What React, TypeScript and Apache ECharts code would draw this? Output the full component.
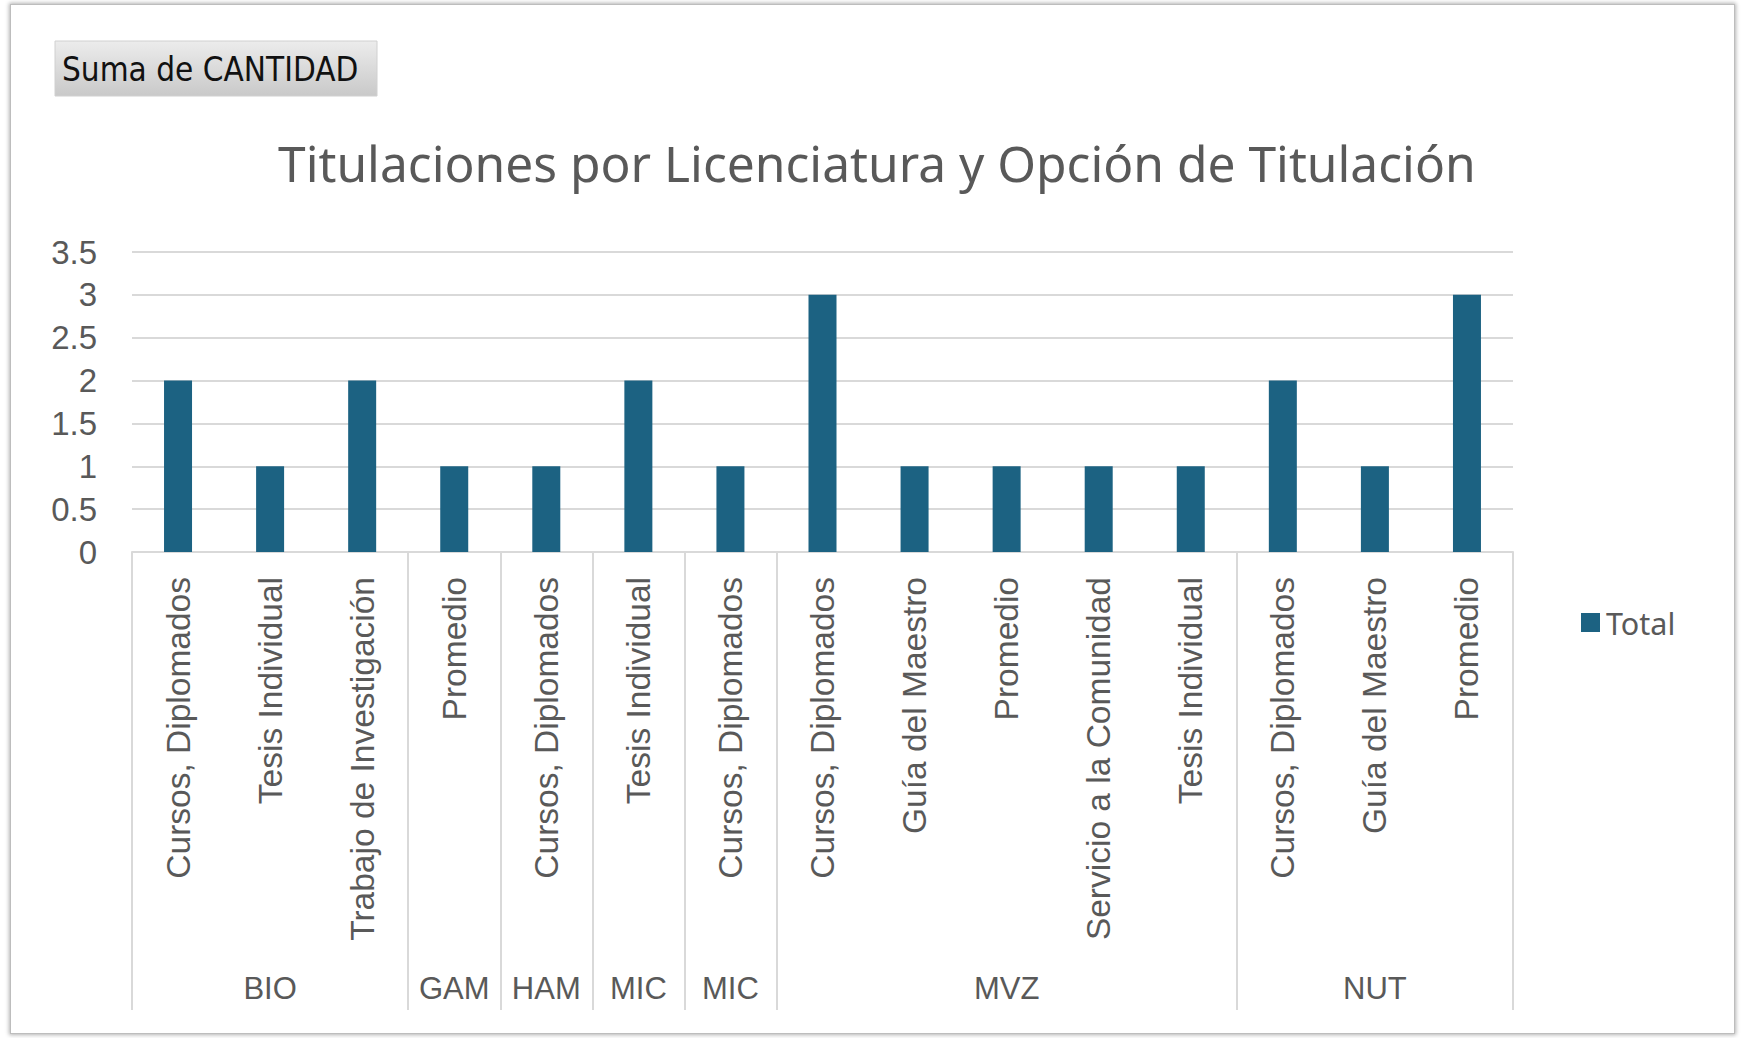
import React, { useEffect, useRef } from "react";
import * as echarts from "echarts";

const TITLE = "Titulaciones por Licenciatura y Opción de Titulación";
const FIELD_BUTTON = "Suma de CANTIDAD";
const SERIES_NAME = "Total";

const groupNames = ["BIO", "GAM", "HAM", "MIC", "MIC", "MVZ", "NUT"];
const groupSizes = [3, 1, 1, 1, 1, 5, 3];
const categories = [
  "Cursos, Diplomados",
  "Tesis Individual",
  "Trabajo de Investigación",
  "Promedio",
  "Cursos, Diplomados",
  "Tesis Individual",
  "Cursos, Diplomados",
  "Cursos, Diplomados",
  "Guía del Maestro",
  "Promedio",
  "Servicio a la Comunidad",
  "Tesis Individual",
  "Cursos, Diplomados",
  "Guía del Maestro",
  "Promedio",
];
const values = [2, 1, 2, 1, 1, 2, 1, 3, 1, 1, 1, 1, 2, 1, 3];
const yMin = 0;
const yMax = 3.5;
const yStep = 0.5;

const TEXT = "#595959";
const GRID = "#d9d9d9";
const BAR = "#1c6282";

const groupStarts: number[] = [];
const groupMiddles: Record<number, string> = {};
{
  let acc = 0;
  groupSizes.forEach((n, i) => {
    groupStarts.push(acc);
    groupMiddles[acc + (n - 1) / 2] = groupNames[i];
    acc += n;
  });
}
const groupAxisData = categories.map((_, i) => groupMiddles[i] ?? "");

export default function App() {
  const ref = useRef<HTMLDivElement>(null);
  useEffect(() => {
    if (!ref.current) return;
    const chart = echarts.init(ref.current, undefined, { renderer: "svg" });
    chart.setOption({
      animation: false,
      backgroundColor: "transparent",
      title: {
        text: TITLE,
        left: 273,
        top: 133,
        textStyle: {
          fontFamily: "Noto Sans",
          fontSize: 49.7,
          fontWeight: "normal",
          color: TEXT,
        },
      },
      legend: {
        data: [{ name: SERIES_NAME, icon: "rect" }],
        left: 1576,
        top: 602,
        orient: "vertical",
        itemWidth: 19,
        itemHeight: 19,
        textStyle: {
          fontFamily: "Noto Sans",
          fontSize: 30.5,
          color: TEXT,
          padding: [0, 0, 0, 1],
        },
      },
      grid: {
        left: 132,
        right: 228,
        top: 252,
        bottom: 486,
        containLabel: false,
        outerBoundsMode: "none",
      },
      xAxis: [
        {
          type: "category",
          position: "bottom",
          data: categories,
          axisLine: { show: true, lineStyle: { color: GRID, width: 2 } },
          axisTick: { show: false },
          axisLabel: {
            interval: 0,
            rotate: 90,
            margin: 25,
            fontFamily: "Liberation Sans",
            fontSize: 33.5,
            color: TEXT,
          },
          splitLine: { show: false },
        },
        {
          type: "category",
          position: "bottom",
          data: groupAxisData,
          axisLine: { show: false },
          axisTick: {
            show: true,
            alignWithLabel: false,
            interval: (i: number) => groupStarts.includes(i),
            length: 458,
            lineStyle: { color: GRID, width: 2 },
          },
          axisLabel: {
            interval: (i: number) => groupMiddles[i] !== undefined,
            margin: 421,
            fontFamily: "Liberation Sans",
            fontSize: 31,
            color: TEXT,
          },
          splitLine: { show: false },
        },
      ],
      yAxis: {
        type: "value",
        min: yMin,
        max: yMax,
        interval: yStep,
        axisLine: { show: false },
        axisTick: { show: false },
        axisLabel: {
          margin: 35,
          fontFamily: "Liberation Sans",
          fontSize: 33,
          color: TEXT,
        },
        splitLine: { show: true, lineStyle: { color: GRID, width: 2 } },
      },
      series: [
        {
          name: SERIES_NAME,
          type: "bar",
          xAxisIndex: 0,
          data: values,
          barWidth: 28,
          itemStyle: { color: BAR },
        },
      ],
      graphic: [
        {
          type: "rect",
          shape: { x: 55, y: 41, width: 322, height: 55 },
          style: {
            fill: new echarts.graphic.LinearGradient(0, 0, 0, 1, [
              { offset: 0, color: "#ececec" },
              { offset: 1, color: "#c9c9c9" },
            ]),
            stroke: "#d0d0d0",
            lineWidth: 1,
          },
          silent: true,
        },
        {
          type: "text",
          x: 62,
          y: 69,
          style: {
            text: FIELD_BUTTON,
            fontFamily: "DejaVu Sans Condensed, Liberation Sans",
            fontSize: 33,
            fill: "#111111",
            verticalAlign: "middle",
            align: "left",
          },
          silent: true,
        },
      ],
    });
    return () => chart.dispose();
  }, []);

  return (
    <div style={{ position: "absolute", left: 0, top: 0, width: 1741, height: 1038, background: "#ffffff" }}>
      <div
        style={{
          position: "absolute",
          left: 10,
          top: 4,
          width: 1723,
          height: 1028,
          border: "1px solid #bdbdbd",
          boxShadow: "0 0 4px 1px rgba(0,0,0,0.3)",
          background: "#ffffff",
        }}
      />
      <div ref={ref} style={{ position: "absolute", left: 0, top: 0, width: 1741, height: 1038 }} />
    </div>
  );
}
